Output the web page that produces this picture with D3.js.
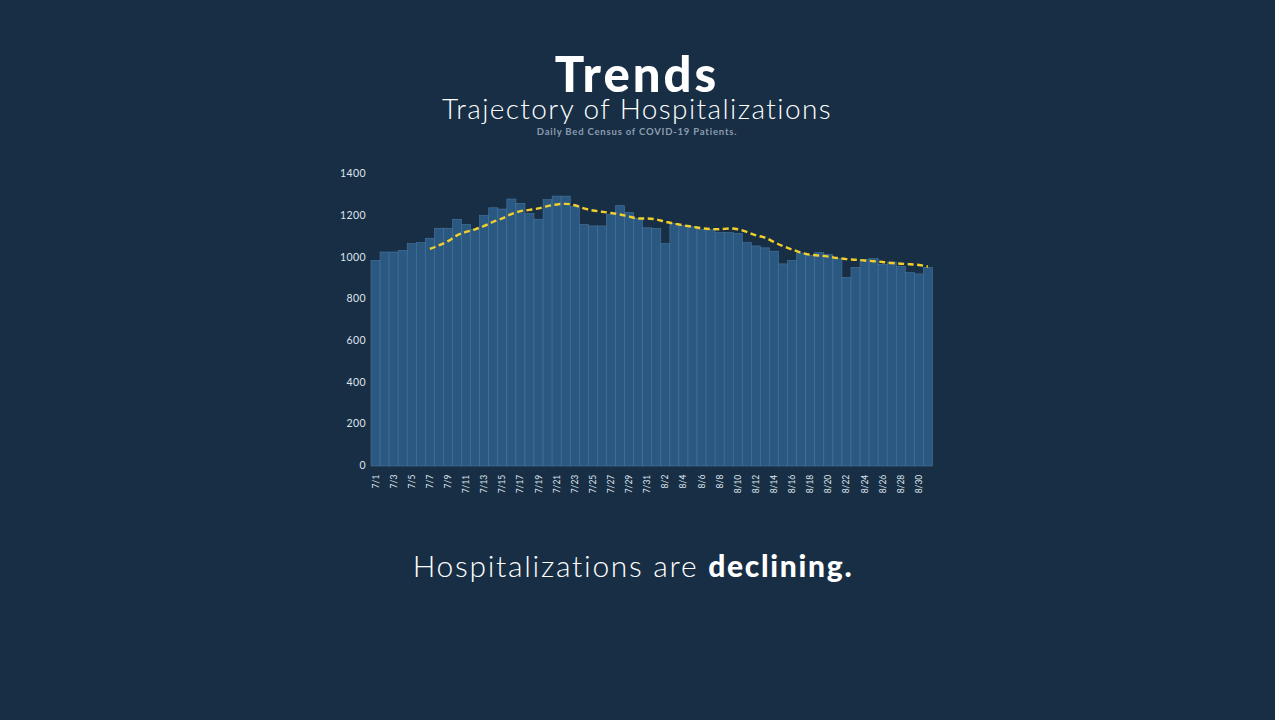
<!DOCTYPE html>
<html>
<head>
<meta charset="utf-8">
<script src="https://cdn.jsdelivr.net/npm/d3@7"></script>
<style>
  html, body { margin: 0; padding: 0; background: #172e45; }
  svg { display: block; }
</style>
</head>
<body>
<svg id="chart" width="1275" height="720"></svg>
<script>
// ---- data ----
const dates = [
  "7/1","7/2","7/3","7/4","7/5","7/6","7/7","7/8","7/9","7/10",
  "7/11","7/12","7/13","7/14","7/15","7/16","7/17","7/18","7/19","7/20",
  "7/21","7/22","7/23","7/24","7/25","7/26","7/27","7/28","7/29","7/30","7/31",
  "8/1","8/2","8/3","8/4","8/5","8/6","8/7","8/8","8/9","8/10",
  "8/11","8/12","8/13","8/14","8/15","8/16","8/17","8/18","8/19","8/20",
  "8/21","8/22","8/23","8/24","8/25","8/26","8/27","8/28","8/29","8/30","8/31"
];
const census = [
  986,1026,1026,1034,1066,1071,1092,1140,1140,1183,
  1158,1135,1201,1238,1232,1280,1259,1211,1183,1277,
  1294,1294,1245,1158,1151,1151,1207,1248,1216,1188,1142,
  1139,1066,1163,1153,1147,1134,1134,1119,1119,1115,
  1071,1055,1046,1030,969,986,1021,1010,1023,1014,
  994,904,952,990,994,967,978,958,927,921,952
];
// dashed trend line (starts 7/7)
const trendDates = dates.slice(6);
const trend = [
  1041,1058,1078,1106,1122,1135,1151,1171,1187,1208,
  1222,1228,1235,1246,1254,1257,1250,1235,1225,1219,
  1213,1206,1196,1187,1187,1182,1171,1162,1154,1147,
  1140,1136,1135,1139,1135,1122,1106,1095,1074,1054,
  1038,1023,1013,1009,1004,997,992,989,985,982,
  978,973,970,967,964,956
];
const yTicks = [0,200,400,600,800,1000,1200,1400];
const xTickLabels = dates.filter((d,i) => i % 2 === 0);

// ---- drawing ----
const svg = d3.select("#chart");
const font = "Lato, 'Open Sans', sans-serif";

const x = d3.scaleBand().domain(dates).range([371, 932.5]).padding(0);
const y = d3.scaleLinear().domain([0, 1400]).range([466, 174]);

// titles
svg.append("text").attr("x", 637).attr("y", 92).attr("text-anchor", "middle")
  .attr("font-family", font).attr("font-weight", 900).attr("font-size", 49)
  .attr("letter-spacing", 3).attr("fill", "#ffffff").text("Trends");
svg.append("text").attr("x", 637).attr("y", 119).attr("text-anchor", "middle")
  .attr("font-family", font).attr("font-weight", 300).attr("font-size", 28)
  .attr("letter-spacing", 1.4).attr("fill", "#ffffff").text("Trajectory of Hospitalizations");
svg.append("text").attr("x", 637).attr("y", 135).attr("text-anchor", "middle")
  .attr("font-family", font).attr("font-weight", 700).attr("font-size", 9.5)
  .attr("letter-spacing", 0.8).attr("fill", "#8d9db0").text("Daily Bed Census of COVID-19 Patients.");

// bars
svg.append("g").selectAll("rect").data(dates).join("rect")
  .attr("x", d => x(d))
  .attr("y", (d,i) => y(census[i]))
  .attr("width", x.bandwidth())
  .attr("height", (d,i) => y(0) - y(census[i]))
  .attr("fill", "#2b5880")
  .attr("stroke", "#4a76a0")
  .attr("stroke-width", 0.6);

// y axis
const yAxis = svg.append("g").attr("transform", "translate(366,0)")
  .call(d3.axisLeft(y).tickValues(yTicks).tickSize(0).tickPadding(0).tickFormat(d3.format("d")));
yAxis.select(".domain").remove();
yAxis.selectAll("text").attr("font-family", font).attr("font-size", 10.5)
  .attr("letter-spacing", 0.4)
  .attr("fill", "#dfe5ec").attr("dy", "0.25em");

// x axis
const xAxis = svg.append("g").attr("transform", `translate(0,${y(0) + 7})`)
  .call(d3.axisBottom(x).tickValues(xTickLabels).tickSize(0).tickPadding(0));
xAxis.select(".domain").remove();
xAxis.selectAll("text")
  .attr("font-family", font).attr("font-size", 8.5)
  .attr("fill", "#dfe5ec")
  .attr("text-anchor", "end")
  .attr("transform", "rotate(-90)")
  .attr("x", 0).attr("y", 0)
  .attr("dx", "-0.2em").attr("dy", "0.35em");

// trend line
const line = d3.line()
  .x((d,i) => x(trendDates[i]) + x.bandwidth() / 2)
  .y(d => y(d))
  .curve(d3.curveMonotoneX);
svg.append("path").datum(trend)
  .attr("d", line)
  .attr("fill", "none")
  .attr("stroke", "#f0cf2a")
  .attr("stroke-width", 2.4)
  .attr("stroke-dasharray", "6,3.5");

// bottom statement
const t = svg.append("text").attr("x", 633).attr("y", 577).attr("text-anchor", "middle")
  .attr("font-family", font).attr("font-size", 30).attr("letter-spacing", 1.7).attr("fill", "#ffffff");
t.append("tspan").attr("font-weight", 300).text("Hospitalizations are ");
t.append("tspan").attr("font-weight", 900).text("declining.");
</script>
</body>
</html>
